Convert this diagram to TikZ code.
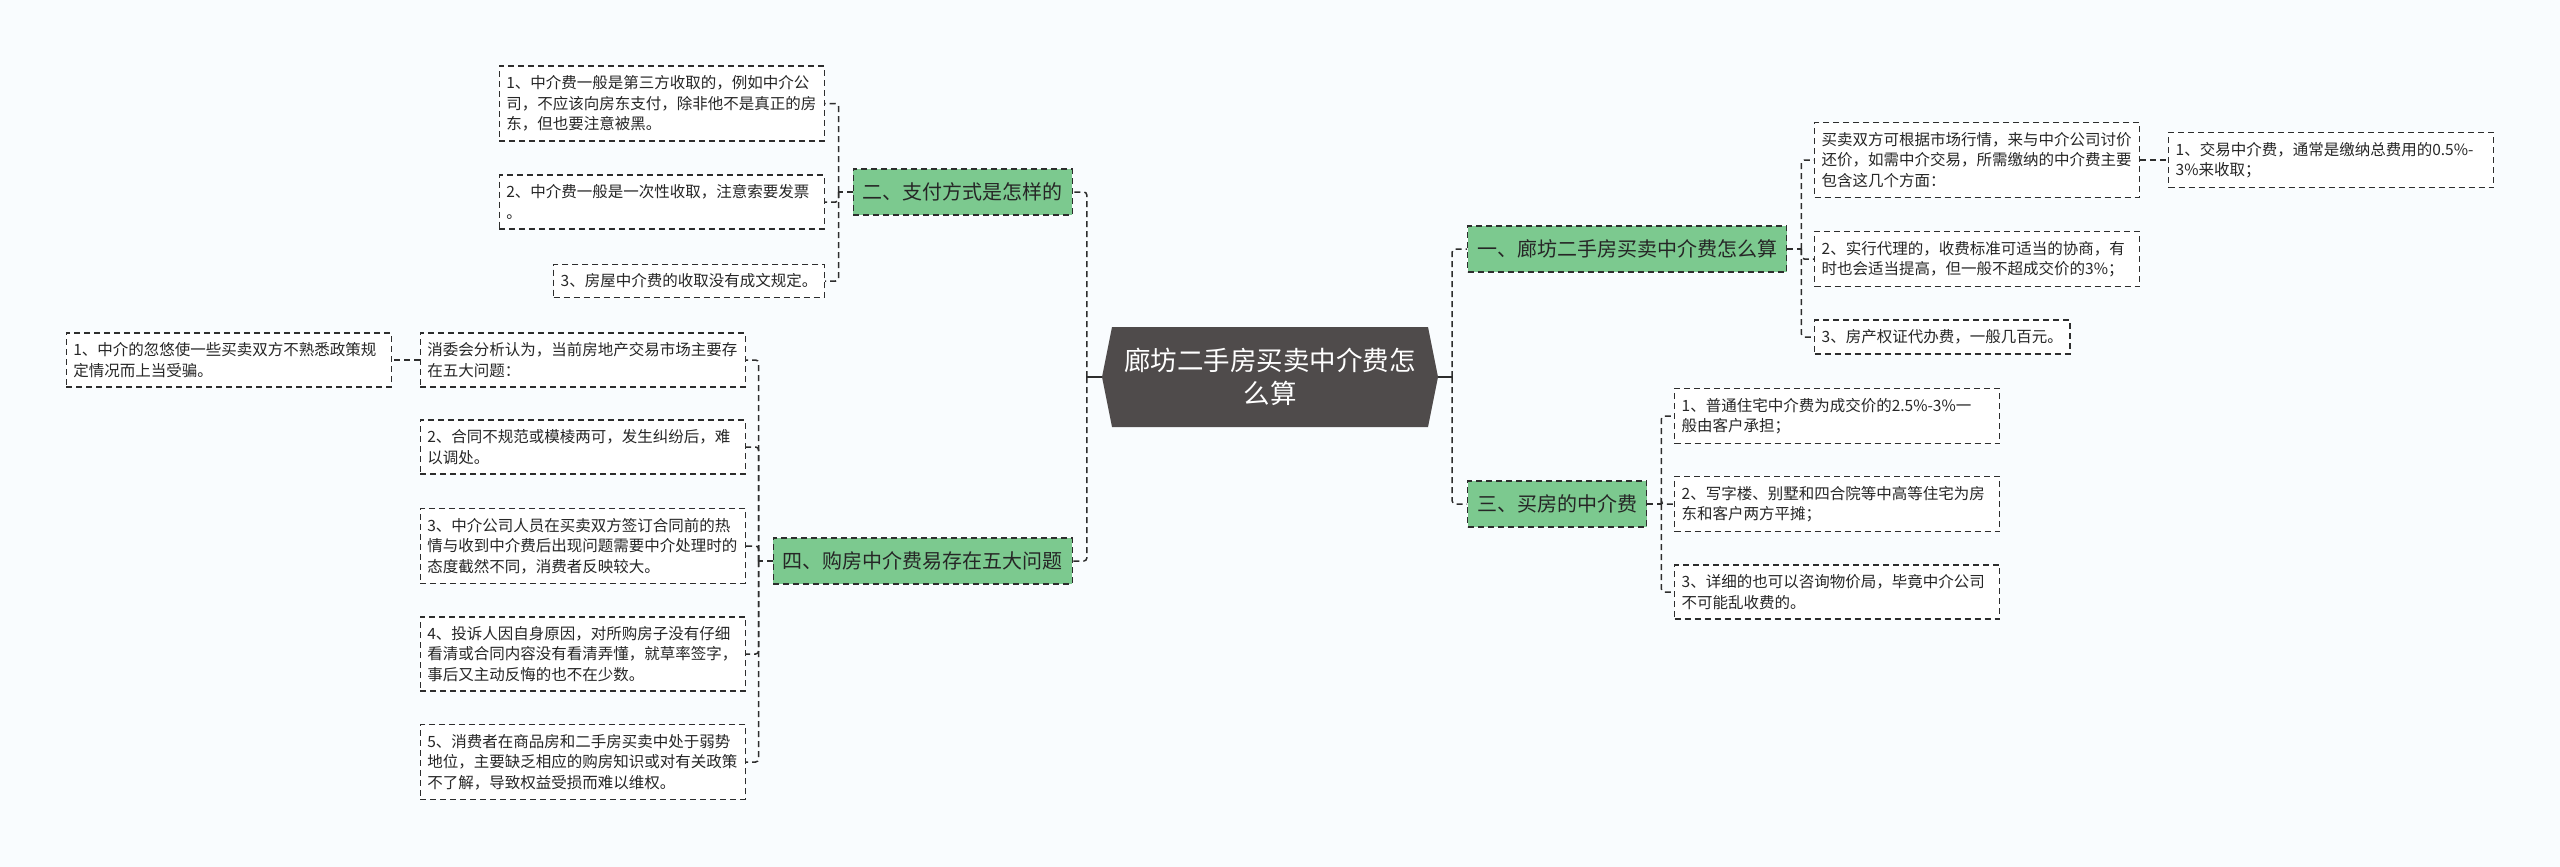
\documentclass[tikz,border=0pt]{standalone}
\usepackage{fontspec}
\setmainfont{Noto Sans CJK SC}
\usetikzlibrary{positioning}

\definecolor{bgpaper}{RGB}{249,252,254}
\definecolor{rootgray}{RGB}{79,75,75}
\definecolor{topicgreen}{RGB}{124,201,143}
\definecolor{linegray}{RGB}{45,45,45}

\begin{document}
\begin{tikzpicture}[x=1pt,y=-1pt,
  link/.style={draw=linegray,line width=1.5pt,dash pattern=on 6pt off 4pt,rounded corners=3pt},
  stub/.style={draw=linegray,line width=1.5pt},
  leaf/.style={draw=linegray,line width=1.4pt,dash pattern=on 6pt off 4pt,fill=white,
    align=left,inner xsep=7pt,inner ysep=9.5pt,text=black!85,font=\fontsize{15.5}{20.5}\selectfont},
  leafw/.style={leaf,text width=311pt},
  topic/.style={draw=linegray,line width=1.4pt,dash pattern=on 6pt off 4pt,fill=topicgreen,
    inner xsep=9.5pt,minimum height=46pt,text=black!85,font=\fontsize{20}{24}\selectfont},
  root/.style={fill=bgpaper,minimum width=336pt,minimum height=100pt,inner sep=0pt,align=center,
    text=white,font=\fontsize{26.5}{33}\selectfont,
    path picture={\fill[rootgray] (path picture bounding box.west)
      -- ([xshift=10pt]path picture bounding box.north west)
      -- ([xshift=-10pt]path picture bounding box.north east)
      -- (path picture bounding box.east)
      -- ([xshift=-10pt]path picture bounding box.south east)
      -- ([xshift=10pt]path picture bounding box.south west) -- cycle;}}]
\fill[bgpaper] (0,0) rectangle (2560,867);
\useasboundingbox (0,0) rectangle (2560,867);

\node[root] (root) at (1270,377) {廊坊二手房买卖中介费怎\\么算};

% left branches
\node[topic,anchor=east] (pay) at (1073,192) {二、支付方式是怎样的};
\node[topic,anchor=east] (prob) at (1073,561) {四、购房中介费易存在五大问题};

\node[leafw,anchor=east] (pay1) at (825,103.5) {1、中介费一般是第三方收取的，例如中介公\\司，不应该向房东支付，除非他不是真正的房\\东，但也要注意被黑。};
\node[leafw,anchor=east] (pay2) at (825,202) {2、中介费一般是一次性收取，注意索要发票\\。};
\node[leaf,anchor=east] (pay3) at (825,281) {3、房屋中介费的收取没有成文规定。};

\node[leafw,anchor=east] (prob0) at (746,360) {消委会分析认为，当前房地产交易市场主要存\\在五大问题：};
\node[leafw,anchor=east] (prob1) at (392,360) {1、中介的忽悠使一些买卖双方不熟悉政策规\\定情况而上当受骗。};
\node[leafw,anchor=east] (prob2) at (746,447) {2、合同不规范或模棱两可，发生纠纷后，难\\以调处。};
\node[leafw,anchor=east] (prob3) at (746,546) {3、中介公司人员在买卖双方签订合同前的热\\情与收到中介费后出现问题需要中介处理时的\\态度截然不同，消费者反映较大。};
\node[leafw,anchor=east] (prob4) at (746,654) {4、投诉人因自身原因，对所购房子没有仔细\\看清或合同内容没有看清弄懂，就草率签字，\\事后又主动反悔的也不在少数。};
\node[leafw,anchor=east] (prob5) at (746,762) {5、消费者在商品房和二手房买卖中处于弱势\\地位，主要缺乏相应的购房知识或对有关政策\\不了解，导致权益受损而难以维权。};

% right branches
\node[topic,anchor=west] (calc) at (1467,249) {一、廊坊二手房买卖中介费怎么算};
\node[topic,anchor=west] (buy) at (1467,504) {三、买房的中介费};

\node[leafw,anchor=west] (calc0) at (1814,160) {买卖双方可根据市场行情，来与中介公司讨价\\还价，如需中介交易，所需缴纳的中介费主要\\包含这几个方面：};
\node[leafw,anchor=west] (calc1) at (2168,160) {1、交易中介费，通常是缴纳总费用的0.5\%-\\3\%来收取；};
\node[leafw,anchor=west] (calc2) at (1814,259) {2、实行代理的，收费标准可适当的协商，有\\时也会适当提高，但一般不超成交价的3\%；};
\node[leaf,anchor=west] (calc3) at (1814,337) {3、房产权证代办费，一般几百元。};

\node[leafw,anchor=west] (buy1) at (1674,416) {1、普通住宅中介费为成交价的2.5\%-3\%一\\般由客户承担；};
\node[leafw,anchor=west] (buy2) at (1674,504) {2、写字楼、别墅和四合院等中高等住宅为房\\东和客户两方平摊；};
\node[leafw,anchor=west] (buy3) at (1674,592) {3、详细的也可以咨询物价局，毕竟中介公司\\不可能乱收费的。};

% junctions
\coordinate (lj) at ([xshift=-15pt]root.west);
\coordinate (rj) at ([xshift=14pt]root.east);
\coordinate (payj) at ([xshift=-14pt]pay.west);
\coordinate (probj) at ([xshift=-14pt]prob.west);
\coordinate (calcj) at ([xshift=14pt]calc.east);
\coordinate (buyj) at ([xshift=14pt]buy.east);

\draw[stub] (root.west) -- (lj);
\draw[stub] (root.east) -- (rj);
\draw[link] (lj) |- (pay.east);
\draw[link] (lj) |- (prob.east);
\draw[link] (rj) |- (calc.west);
\draw[link] (rj) |- (buy.west);

\draw[link] (pay.west) -- (payj);
\foreach \n in {pay1,pay2,pay3} \draw[link] (payj) |- (\n.east);
\draw[link] (prob.west) -- (probj);
\foreach \n in {prob0,prob2,prob3,prob4,prob5} \draw[link] (probj) |- (\n.east);
\draw[link] (prob0.west) -- (prob1.east);

\draw[link] (calc.east) -- (calcj);
\foreach \n in {calc0,calc2,calc3} \draw[link] (calcj) |- (\n.west);
\draw[link] (calc0.east) -- (calc1.west);
\draw[link] (buy.east) -- (buyj);
\foreach \n in {buy1,buy2,buy3} \draw[link] (buyj) |- (\n.west);

\end{tikzpicture}
\end{document}
